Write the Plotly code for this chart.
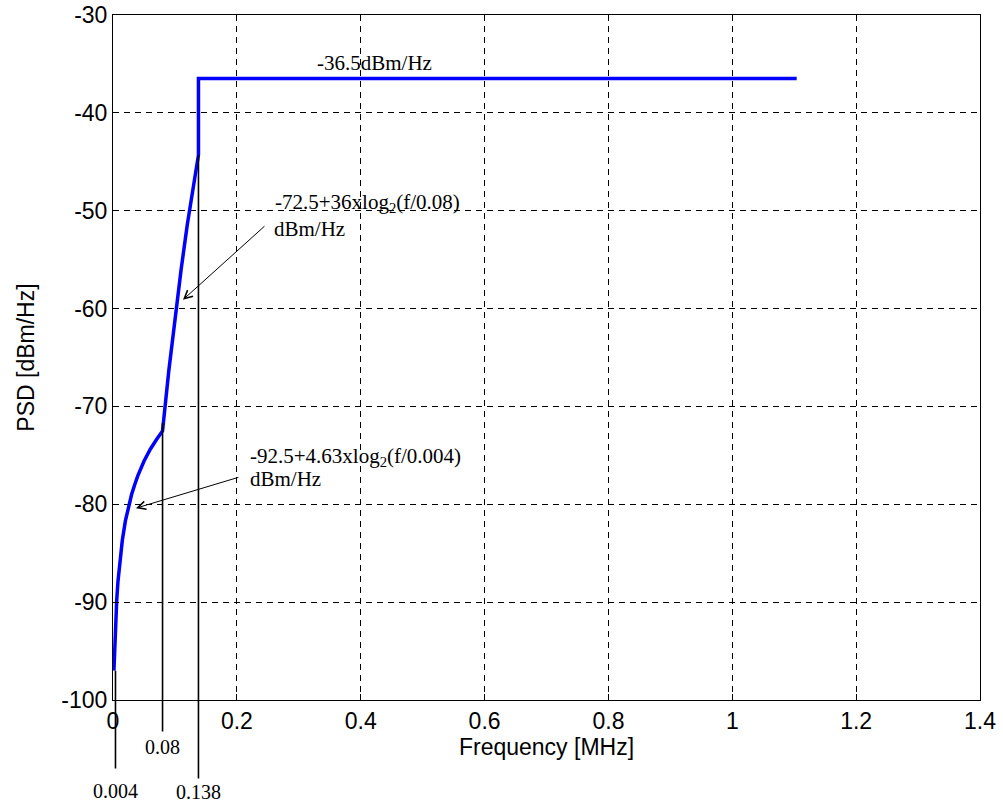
import plotly.graph_objects as go

# PSD mask (frequency in MHz, PSD in dBm/Hz)
freq_mhz = [0.0015, 0.004, 0.006, 0.008, 0.010, 0.015, 0.020, 0.025, 0.030, 0.035,
            0.040, 0.050, 0.060, 0.070, 0.080, 0.090, 0.100, 0.110, 0.120, 0.130,
            0.138, 0.138, 1.104]
psd_dbm = [-97.0, -92.5, -89.8, -87.9, -86.4, -83.7, -81.7, -80.3, -79.0, -78.0,
           -77.1, -75.6, -74.4, -73.4, -72.5, -66.4, -60.9, -56.0, -51.4, -47.3,
           -44.3, -36.5, -36.5]

# breakpoint markers: frequency, top of the marker line, label
break_freqs = [0.004, 0.08, 0.138]
break_tops = [-97.0, -71.7, -44.3]
break_labels = ["0.004", "0.08", "0.138"]

x_ticks = [0, 0.2, 0.4, 0.6, 0.8, 1.0, 1.2, 1.4]
x_tick_labels = ["0", "0.2", "0.4", "0.6", "0.8", "1", "1.2", "1.4"]
y_ticks = [-100, -90, -80, -70, -60, -50, -40, -30]
y_tick_labels = ["-100", "-90", "-80", "-70", "-60", "-50", "-40", "-30"]

SERIF = "Liberation Serif, Times New Roman, serif"
SANS = "Liberation Sans, Arial, sans-serif"

fig = go.Figure()
fig.add_trace(go.Scatter(
    x=freq_mhz, y=psd_dbm, mode="lines",
    line=dict(color="#0000FF", width=3.5),
    showlegend=False, hoverinfo="skip",
))

annotations = []
# breakpoint lines with labels below the axis
label_y = [-109.3, -104.8, -109.4]
standoffs = [10, 3, 1]
for f, top, lab, ly, so in zip(break_freqs, break_tops, break_labels, label_y, standoffs):
    annotations.append(dict(
        x=f, y=top, xref="x", yref="y",
        ax=f, ay=ly, axref="x", ayref="y",
        text=lab, showarrow=True, arrowhead=0, arrowwidth=1.6, arrowcolor="black",
        startstandoff=so, standoff=0,
        font=dict(family=SERIF, size=20, color="black"),
    ))

# text labels
text_style = dict(family=SERIF, size=21, color="black")
annotations += [
    dict(x=0.423, y=-34.9, xref="x", yref="y", text="-36.5dBm/Hz", showarrow=False,
         xanchor="center", yanchor="middle", font=text_style),
    dict(x=0.2584, y=-49.2, xref="x", yref="y", text="-72.5+36xlog<sub>2</sub>(f/0.08)",
         showarrow=False, xanchor="left", yanchor="middle", font=text_style),
    dict(x=0.2567, y=-51.85, xref="x", yref="y", text="dBm/Hz",
         showarrow=False, xanchor="left", yanchor="middle", font=text_style),
    dict(x=0.218, y=-75.15, xref="x", yref="y", text="-92.5+4.63xlog<sub>2</sub>(f/0.004)",
         showarrow=False, xanchor="left", yanchor="middle", font=text_style),
    dict(x=0.218, y=-77.45, xref="x", yref="y", text="dBm/Hz",
         showarrow=False, xanchor="left", yanchor="middle", font=text_style),
]

# pointer arrows
for hx, hy, tx, ty in [(0.113, -59.1, 0.247, -51.45), (0.037, -80.4, 0.205, -77.2)]:
    annotations.append(dict(
        x=hx, y=hy, xref="x", yref="y", ax=tx, ay=ty, axref="x", ayref="y",
        text="", showarrow=True, arrowhead=5, arrowsize=1.6, arrowwidth=1,
        arrowcolor="black", standoff=0, startstandoff=0,
    ))

axis_common = dict(
    showline=True, linecolor="black", linewidth=1, mirror=True,
    ticks="inside", ticklen=6, tickcolor="black",
    showgrid=True, gridcolor="black", gridwidth=1, griddash="6px,5px",
    zeroline=False, automargin=False, ticklabeloverflow="allow",
    tickfont=dict(family=SANS, size=23, color="black"),
)

fig.update_layout(
    width=1003, height=807,
    margin=dict(l=113, r=23, t=15, b=107),
    paper_bgcolor="white", plot_bgcolor="white",
    xaxis=dict(range=[0, 1.4], tickvals=x_ticks, ticktext=x_tick_labels,
               title=dict(text="Frequency [MHz]", standoff=0,
                          font=dict(family=SANS, size=23, color="black")),
               **axis_common),
    yaxis=dict(range=[-100, -30], tickvals=y_ticks, ticktext=y_tick_labels,
               title=dict(text="PSD [dBm/Hz]", standoff=20,
                          font=dict(family=SANS, size=23, color="black")),
               **axis_common),
    annotations=annotations,
)

# remove the default page margin so the figure fills the window from its corner
fig.write_html("out.html",
               config={"displayModeBar": False},
               post_script="document.body.style.margin='0';document.body.style.overflow='hidden';")
